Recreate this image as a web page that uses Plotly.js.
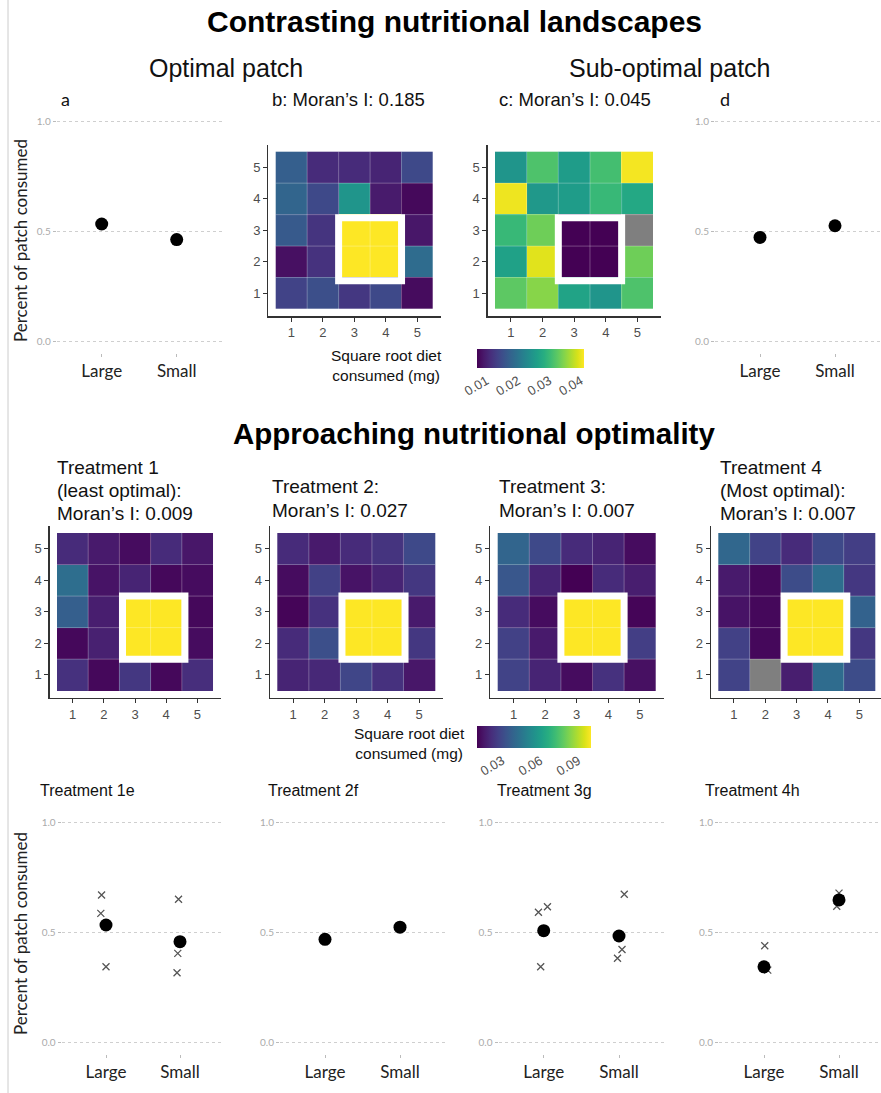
<!DOCTYPE html>
<html><head><meta charset="utf-8">
<script src="https://cdn.plot.ly/plotly-3.0.1.min.js"></script>
<style>html,body{margin:0;padding:0;background:#fff}</style>
</head><body><div id="chart" style="width:881px;height:1093px"></div>
<script>
const W = 881, H = 1093;

// ---------- DATA ----------
const gridCols = [1, 2, 3, 4, 5];
const gridRows = [1, 2, 3, 4, 5];
// heatmap rows listed from top (y=5) to bottom (y=1); null = missing
const patchB = [
  [0.0172, 0.0111, 0.0111, 0.0104, 0.0145],
  [0.0179, 0.0145, 0.0247, 0.0094, 0.0077],
  [0.0165, 0.0121, 0.0410, 0.0410, 0.0090],
  [0.0084, 0.0118, 0.0410, 0.0410, 0.0189],
  [0.0138, 0.0152, 0.0124, 0.0145, 0.0080]];
const patchC = [
  [0.0247, 0.0315, 0.0257, 0.0308, 0.0405],
  [0.0402, 0.0250, 0.0257, 0.0298, 0.0274],
  [0.0298, 0.0335, 0.0070, 0.0070, null],
  [0.0264, 0.0395, 0.0070, 0.0070, 0.0335],
  [0.0325, 0.0349, 0.0267, 0.0247, 0.0315]];
const treat1 = [
  [0.0208, 0.0163, 0.0127, 0.0208, 0.0154],
  [0.0424, 0.0145, 0.0190, 0.0118, 0.0127],
  [0.0370, 0.0172, 0.1000, 0.1000, 0.0118],
  [0.0118, 0.0181, 0.1000, 0.1000, 0.0127],
  [0.0226, 0.0118, 0.0244, 0.0118, 0.0217]];
const treat2 = [
  [0.0208, 0.0163, 0.0208, 0.0235, 0.0298],
  [0.0127, 0.0271, 0.0145, 0.0190, 0.0244],
  [0.0109, 0.0226, 0.1000, 0.1000, 0.0163],
  [0.0208, 0.0316, 0.1000, 0.1000, 0.0244],
  [0.0190, 0.0199, 0.0289, 0.0226, 0.0154]];
const treat3 = [
  [0.0388, 0.0298, 0.0208, 0.0190, 0.0127],
  [0.0343, 0.0190, 0.0100, 0.0208, 0.0172],
  [0.0208, 0.0127, 0.1000, 0.1000, 0.0109],
  [0.0271, 0.0163, 0.1000, 0.1000, 0.0262],
  [0.0280, 0.0190, 0.0127, 0.0226, 0.0136]];
const treat4 = [
  [0.0397, 0.0280, 0.0208, 0.0298, 0.0262],
  [0.0163, 0.0118, 0.0307, 0.0424, 0.0244],
  [0.0145, 0.0118, 0.1000, 0.1000, 0.0379],
  [0.0271, 0.0118, 0.1000, 0.1000, 0.0244],
  [0.0280, null,   0.0172, 0.0415, 0.0307]];

const sizeGroups = ['Large', 'Small'];
const meanA = [0.535, 0.464];
const meanD = [0.474, 0.527];
const meanE = [0.535, 0.459];
const meanF = [0.470, 0.525];
const meanG = [0.509, 0.485];
const meanH = [0.345, 0.649];
// replicate values (crosses) and their horizontal jitter
const repE_Large = [0.671, 0.588, 0.345], jitE_Large = [-0.06, -0.07, 0.00];
const repE_Small = [0.652, 0.406, 0.318], jitE_Small = [-0.02, -0.03, -0.04];
const repG_Large = [0.618, 0.593, 0.345], jitG_Large = [0.05, -0.07, -0.04];
const repG_Small = [0.675, 0.424, 0.384], jitG_Small = [0.07, 0.04, -0.02];
const repH_Large = [0.441, 0.330, 0.350], jitH_Large = [0.01, 0.05, 0.00];
const repH_Small = [0.680, 0.620, 0.655], jitH_Small = [0.00, -0.03, 0.02];

const topTicks = [0.01, 0.02, 0.03, 0.04];
const midTicks = [0.03, 0.06, 0.09];

// ---------- HELPERS ----------
const FT = 'Liberation Sans, Arial, sans-serif';
const FS = 'Lato, Open Sans, sans-serif';
const px = v => v / W, py = v => 1 - v / H;

function hmAxes(cx0, cx1, cy0, cy1) {
  const ux = (cx1 - cx0) / 5, uy = (cy1 - cy0) / 5;
  const left = cx0 - 0.23 * ux, right = Math.min(W, cx1 + 0.25 * ux);
  const top = cy0 - 0.22 * uy, bottom = cy1 + 0.23 * uy;
  const common = {showline: true, linecolor: '#333', linewidth: 1.5, ticks: 'outside', ticklen: 4,
    tickcolor: '#333', tickfont: {family: FT, size: 13, color: '#4d4d4d'}, showgrid: false,
    zeroline: false, tickvals: gridCols, fixedrange: true};
  return {
    x: Object.assign({}, common, {domain: [px(left), px(right)], range: [0.27, 5.5 + (right - cx1) / ux]}),
    y: Object.assign({}, common, {domain: [py(bottom), py(top)], range: [0.27, 5.72]})
  };
}
function scAxes(p1, p2, y1, y0) {
  const u = p2 - p1;
  const left = p1 - 0.6 * u, right = Math.min(W, p2 + 0.6 * u);
  const yu = y0 - y1;
  return {
    x: {domain: [px(left), px(right)], range: [0.4, 2 + (right - p2) / u], tickvals: [1, 2], ticktext: sizeGroups,
        ticks: 'outside', ticklen: 3, tickcolor: '#bbb', showline: false, showgrid: false, zeroline: false,
        tickfont: {family: FS, size: 17, color: '#222'}, fixedrange: true},
    y: {domain: [py(y0 + 0.05 * yu), py(y1 - 0.05 * yu)], range: [-0.05, 1.05], tickvals: [0, 0.5, 1],
        ticktext: ['0.0', '0.5', '1.0'], ticks: 'outside', ticklen: 3, tickcolor: '#bbb', showline: false,
        showgrid: true, gridcolor: '#cfcfcf', griddash: 'dot', gridwidth: 1, zeroline: false,
        tickfont: {family: FS, size: 10, color: '#aaa'}, fixedrange: true}
  };
}

const layout = {
  width: W, height: H, margin: {l: 0, r: 0, t: 0, b: 0}, showlegend: false,
  paper_bgcolor: '#fff', plot_bgcolor: 'rgba(0,0,0,0)', hovermode: false,
  annotations: [], shapes: [],
  coloraxis: {colorscale: 'Viridis', cmin: 0.007, cmax: 0.041,
    colorbar: {orientation: 'h', x: px(477), xanchor: 'left', y: py(349), yanchor: 'top', lenmode: 'pixels', len: 107,
      thicknessmode: 'pixels', thickness: 19, xpad: 0, ypad: 0, outlinewidth: 0, tickvals: topTicks,
      ticktext: topTicks.map(v => v.toFixed(2)), tickangle: -30, ticks: '', tickfont: {family: FT, size: 13, color: '#4d4d4d'}}},
  coloraxis2: {colorscale: 'Viridis', cmin: 0.01, cmax: 0.1,
    colorbar: {orientation: 'h', x: px(477), xanchor: 'left', y: py(726), yanchor: 'top', lenmode: 'pixels', len: 114,
      thicknessmode: 'pixels', thickness: 22, xpad: 0, ypad: 0, outlinewidth: 0, tickvals: midTicks,
      ticktext: midTicks.map(v => v.toFixed(2)), tickangle: -30, ticks: '', tickfont: {family: FT, size: 13, color: '#4d4d4d'}}}
};

const traces = [];
function setAxes(n, ax) {
  const sx = n === 1 ? '' : n;
  layout['xaxis' + sx] = Object.assign(ax.x, {anchor: 'y' + sx});
  layout['yaxis' + sx] = Object.assign(ax.y, {anchor: 'x' + sx});
}
function addHeatmap(n, rows, caxis, frame) {
  const sx = n === 1 ? '' : n;
  const z = rows.slice().reverse();
  traces.push({type: 'heatmap', x: gridCols, y: gridRows, z: z, coloraxis: caxis,
    xaxis: 'x' + sx, yaxis: 'y' + sx, hoverinfo: 'skip'});
  const na = z.map(r => r.map(v => v === null ? 1 : null));
  traces.push({type: 'heatmap', x: gridCols, y: gridRows, z: na, zmin: 0, zmax: 1, showscale: false,
    colorscale: [[0, '#7f7f7f'], [1, '#7f7f7f']], xaxis: 'x' + sx, yaxis: 'y' + sx, hoverinfo: 'skip'});
  // faint cell borders
  for (let i = 0; i < gridCols.length - 1; i++) {
    const b = (gridCols[i] + gridCols[i + 1]) / 2;
    layout.shapes.push({type: 'line', xref: 'x' + sx, yref: 'y' + sx, x0: b, x1: b, y0: 0.5, y1: 5.5,
      line: {color: 'rgba(255,255,255,0.28)', width: 1}});
    layout.shapes.push({type: 'line', xref: 'x' + sx, yref: 'y' + sx, y0: b, y1: b, x0: 0.5, x1: 5.5,
      line: {color: 'rgba(255,255,255,0.28)', width: 1}});
  }
  layout.shapes.push({type: 'rect', xref: 'x' + sx, yref: 'y' + sx, x0: frame[0], x1: frame[1], y0: frame[2], y1: frame[3],
    line: {color: '#ffffff', width: 7}, fillcolor: 'rgba(0,0,0,0)'});
}
function addScatter(n, means, reps) {
  const sx = n === 1 ? '' : n;
  reps.forEach(([vals, jit, g]) => {
    traces.push({type: 'scatter', mode: 'markers', x: vals.map((v, i) => g + jit[i]), y: vals,
      marker: {symbol: 'x-thin-open', size: 7, line: {width: 1.3, color: '#555'}, color: '#555'},
      xaxis: 'x' + sx, yaxis: 'y' + sx, hoverinfo: 'skip'});
  });
  traces.push({type: 'scatter', mode: 'markers', x: sizeGroups.map((s, i) => i + 1), y: means,
    marker: {color: '#000', size: 13}, xaxis: 'x' + sx, yaxis: 'y' + sx, hoverinfo: 'skip'});
}

// top row
setAxes(1, scAxes(101.7, 176.7, 121.7, 341.7));
addScatter(1, meanA, []);
setAxes(2, hmAxes(275.7, 433, 151.7, 309));
addHeatmap(2, patchB, 'coloraxis', [2.5, 4.5, 1.4, 3.4]);
setAxes(3, hmAxes(495, 653.3, 151.7, 309));
addHeatmap(3, patchC, 'coloraxis', [2.5, 4.5, 1.4, 3.4]);
setAxes(4, scAxes(760, 835, 121.7, 341.7));
addScatter(4, meanD, []);
// middle row
setAxes(5, hmAxes(57, 213, 533, 690.7));
addHeatmap(5, treat1, 'coloraxis2', [2.6, 4.6, 1.5, 3.5]);
setAxes(6, hmAxes(277.3, 435, 533, 690.7));
addHeatmap(6, treat2, 'coloraxis2', [2.55, 4.55, 1.5, 3.5]);
setAxes(7, hmAxes(497.7, 655.7, 533, 690.7));
addHeatmap(7, treat3, 'coloraxis2', [2.5, 4.5, 1.5, 3.5]);
setAxes(8, hmAxes(718.3, 875, 533, 690.7));
addHeatmap(8, treat4, 'coloraxis2', [2.6, 4.6, 1.5, 3.5]);
// bottom row
setAxes(9, scAxes(106, 180, 822.7, 1042.7));
addScatter(9, meanE, [[repE_Large, jitE_Large, 1], [repE_Small, jitE_Small, 2]]);
setAxes(10, scAxes(325, 400, 822.7, 1042.7));
addScatter(10, meanF, []);
setAxes(11, scAxes(543.7, 619, 822.7, 1042.7));
addScatter(11, meanG, [[repG_Large, jitG_Large, 1], [repG_Small, jitG_Small, 2]]);
setAxes(12, scAxes(764, 839, 822.7, 1042.7));
addScatter(12, meanH, [[repH_Large, jitH_Large, 1], [repH_Small, jitH_Small, 2]]);

// ---------- TEXT ----------
function ann(text, x, y, size, opts) {
  layout.annotations.push(Object.assign({xref: 'paper', yref: 'paper', x: px(x), y: py(y), text: text,
    showarrow: false, xanchor: 'center', yanchor: 'middle', font: {family: FT, size: size, color: '#111'}}, opts || {}));
}
ann('<b>Contrasting nutritional landscapes</b>', 454, 22, 30, {font: {family: FT, size: 30, color: '#000'}});
ann('Optimal patch', 226, 68, 25);
ann('Sub-optimal patch', 670, 68, 25);
ann('a', 65, 99, 17, {font: {family: FS, size: 18, color: '#111'}});
ann('b: Moran\u2019s I: 0.185', 270, 99, 18.5, {xanchor: 'left'});
ann('c: Moran\u2019s I: 0.045', 497, 99, 18.5, {xanchor: 'left'});
ann('d', 725, 99, 17, {font: {family: FS, size: 18, color: '#111'}});
ann('Square root diet<br>consumed (mg)', 386, 365, 15.5);
ann('<b>Approaching nutritional optimality</b>', 474, 433, 29.5, {font: {family: FT, size: 29.5, color: '#000'}});
ann('Treatment 1', 55, 467, 19, {xanchor: 'left'});
ann('(least optimal):', 55, 490, 19, {xanchor: 'left'});
ann('Moran\u2019s I: 0.009', 55, 513, 19, {xanchor: 'left'});
ann('Treatment 2:', 270, 486, 19, {xanchor: 'left'});
ann('Moran\u2019s I: 0.027', 270, 510, 19, {xanchor: 'left'});
ann('Treatment 3:', 497, 486, 19, {xanchor: 'left'});
ann('Moran\u2019s I: 0.007', 497, 510, 19, {xanchor: 'left'});
ann('Treatment 4', 718, 467, 19, {xanchor: 'left'});
ann('(Most optimal):', 718, 490, 19, {xanchor: 'left'});
ann('Moran\u2019s I: 0.007', 718, 513, 19, {xanchor: 'left'});
ann('Square root diet<br>consumed (mg)', 409, 743, 15.5);
ann('Treatment 1e', 38, 790, 16, {xanchor: 'left'});
ann('Treatment 2f', 266, 790, 16, {xanchor: 'left'});
ann('Treatment 3g', 495, 790, 16, {xanchor: 'left'});
ann('Treatment 4h', 703, 790, 16, {xanchor: 'left'});
ann('Percent of patch consumed', 20, 241, 17, {textangle: -90, font: {family: FS, size: 17, color: '#222'}});
ann('Percent of patch consumed', 20, 934, 17, {textangle: -90, font: {family: FS, size: 17, color: '#222'}});

// figure frame line on the left
layout.shapes.push({type: 'line', xref: 'paper', yref: 'paper', x0: px(8), x1: px(8), y0: 0, y1: 1,
  line: {color: '#cccccc', width: 1}});

Plotly.newPlot('chart', traces, layout, {staticPlot: true});
</script></body></html>
